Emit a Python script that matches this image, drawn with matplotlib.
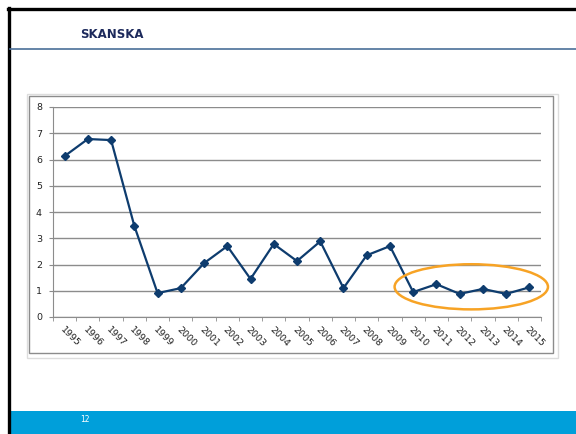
import matplotlib.pyplot as plt
from matplotlib.patches import Rectangle, Ellipse
from matplotlib.lines import Line2D

years = [str(y) for y in range(1995, 2016)]
values = [6.13, 6.78, 6.74, 3.47, 0.91, 1.10, 2.05, 2.70, 1.45, 2.78, 2.13,
          2.88, 1.10, 2.35, 2.70, 0.95, 1.25, 0.88, 1.07, 0.88, 1.13]
yticks = list(range(0, 9))

W, H = 576, 434
fig = plt.figure(figsize=(W / 100, H / 100), dpi=100)
fig.patch.set_facecolor('white')

def fx(x):
    return x / W

def fy(y):
    return 1 - y / H

# slide frame
fig.add_artist(Line2D([fx(9), fx(9)], [fy(8), fy(434)], color='black', lw=2.4))
fig.add_artist(Line2D([fx(8), fx(576)], [fy(9), fy(9)], color='black', lw=2.4))
fig.add_artist(Line2D([fx(10), fx(576)], [fy(49), fy(49)], color='#4a6f98', lw=1.2))
fig.text(fx(80), fy(35), 'SKANSKA', fontsize=8.5, fontweight='bold',
         color='#1d2a5c', va='center', ha='left', family='DejaVu Sans')
fig.add_artist(Rectangle((fx(10), 0), 1, fy(411), color='#009fda', lw=0))
fig.text(fx(80), fy(419), '12', fontsize=5.5, color='white', va='center')

# chart frame (spreadsheet background + chart border)
fig.add_artist(Rectangle((fx(27), fy(358)), fx(558 - 27), (358 - 94) / H,
                         fill=False, ec='#dddddd', lw=1))
fig.add_artist(Rectangle((fx(29), fy(353)), fx(553 - 29), (353 - 96) / H,
                         fill=False, ec='#8c8c8c', lw=1))

ax = fig.add_axes([fx(53), fy(317), fx(541 - 53), (317 - 107) / H])
ax.set_facecolor('none')
x = list(range(len(years)))
ax.plot(x, values, color='#0e3c6e', lw=1.6, marker='D', markersize=4.5, zorder=3)

ax.set_xlim(-0.5, len(years) - 0.5)
ax.set_ylim(0, 8)
ax.set_yticks(yticks)
ax.set_yticklabels([str(t) for t in yticks], fontsize=6.8, color='#222222')
ax.set_xticks(x)
ax.set_xticklabels(years, rotation=-45, ha='left', va='top', fontsize=6.8,
                   color='#222222', rotation_mode='anchor')
ax.set_xticks([i - 0.5 for i in range(len(years) + 1)], minor=True)
ax.tick_params(axis='x', which='major', length=0, pad=6)
ax.tick_params(axis='x', which='minor', length=3, color='#8c8c8c')
ax.tick_params(axis='y', length=3, color='#8c8c8c', pad=5)
ax.grid(axis='y', color='#8c8c8c', lw=1)
for s in ['top', 'right']:
    ax.spines[s].set_visible(False)
ax.spines['left'].set_color('#8c8c8c')
ax.spines['bottom'].set_color('#8c8c8c')

# highlight ellipse
ax.add_patch(Ellipse((17.5, 1.15), 6.6, 1.72, fill=False, ec='#f7a325', lw=1.8,
                     zorder=4, clip_on=False))

fig.savefig('out.png', dpi=100)
